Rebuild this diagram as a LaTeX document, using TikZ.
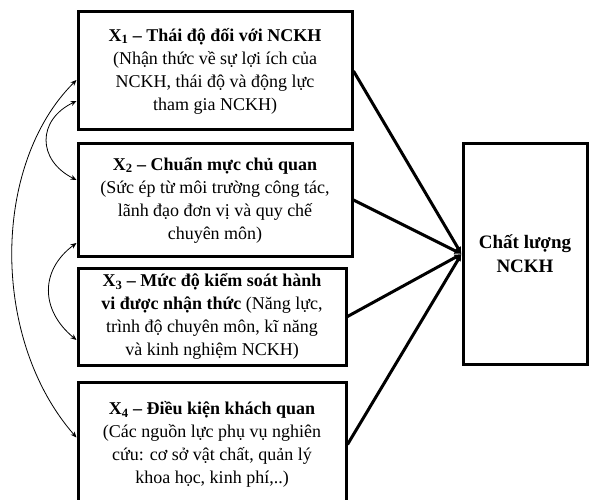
\documentclass[tikz,border=0pt]{standalone}
\usepackage{fontspec}
\setmainfont{Liberation Serif}
\usetikzlibrary{arrows.meta,calc}
\begin{document}
\begin{tikzpicture}[x=1pt,y=-1pt,
  box/.style={draw,line width=3pt,align=center,inner sep=0pt,
    font=\fontsize{18}{23}\selectfont},
  link/.style={line width=3pt,-{Latex[length=7pt,width=7pt]}},
  curvelink/.style={line width=0.8pt,{Stealth[length=6pt,width=5pt]}-{Stealth[length=6pt,width=5pt]}}]
\useasboundingbox (0,0) rectangle (589,500);
\node[box,minimum width=274pt,minimum height=118pt] (b1) at (215,71)
  {\textbf{X\textsubscript{1} – Thái độ đối với NCKH}\\(Nhận thức về sự lợi ích của\\NCKH, thái độ và động lực\\tham gia NCKH)};
\node[box,minimum width=274pt,minimum height=112pt] (b2) at (215,200)
  {\textbf{X\textsubscript{2} – Chuẩn mực chủ quan}\\(Sức ép từ môi trường công tác,\\lãnh đạo đơn vị và quy chế\\chuyên môn)};
\node[box,minimum width=268pt,minimum height=97pt] (b3) at (212,316.5)
  {\textbf{X\textsubscript{3} – Mức độ kiểm soát hành}\\\textbf{vi được nhận thức} (Năng lực,\\trình độ chuyên môn, kĩ năng\\và kinh nghiệm NCKH)};
\node[box,minimum width=268pt,minimum height=124pt] (b4) at (212,444.5)
  {\textbf{X\textsubscript{4} – Điều kiện khách quan}\\(Các nguồn lực phụ vụ nghiên\\cứu: cơ sở vật chất, quản lý\\khoa học, kinh phí,..)};
\node[box,minimum width=124pt,minimum height=220pt,font=\fontsize{19}{24}\selectfont\bfseries] (r) at (525,254)
  {Chất lượng\\NCKH};
\draw[link] (b1.east) -- (r.west);
\draw[link] (b2.east) -- (r.west);
\draw[link] (b3.east) -- (r.west);
\draw[link] (b4.east) -- (r.west);
\draw[curvelink] ([yshift=-9pt]b1.west) .. controls (-9,165) and (-9,340) .. ([yshift=7pt]b4.west);
\draw[curvelink] ([yshift=-30pt]b1.west) .. controls (37,120) and (37,160) .. ([yshift=20pt]b2.west);
\draw[curvelink] ([yshift=-43pt]b2.west) .. controls (40,270) and (40,310) .. ([yshift=-23.5pt]b3.west);
\end{tikzpicture}
\end{document}
